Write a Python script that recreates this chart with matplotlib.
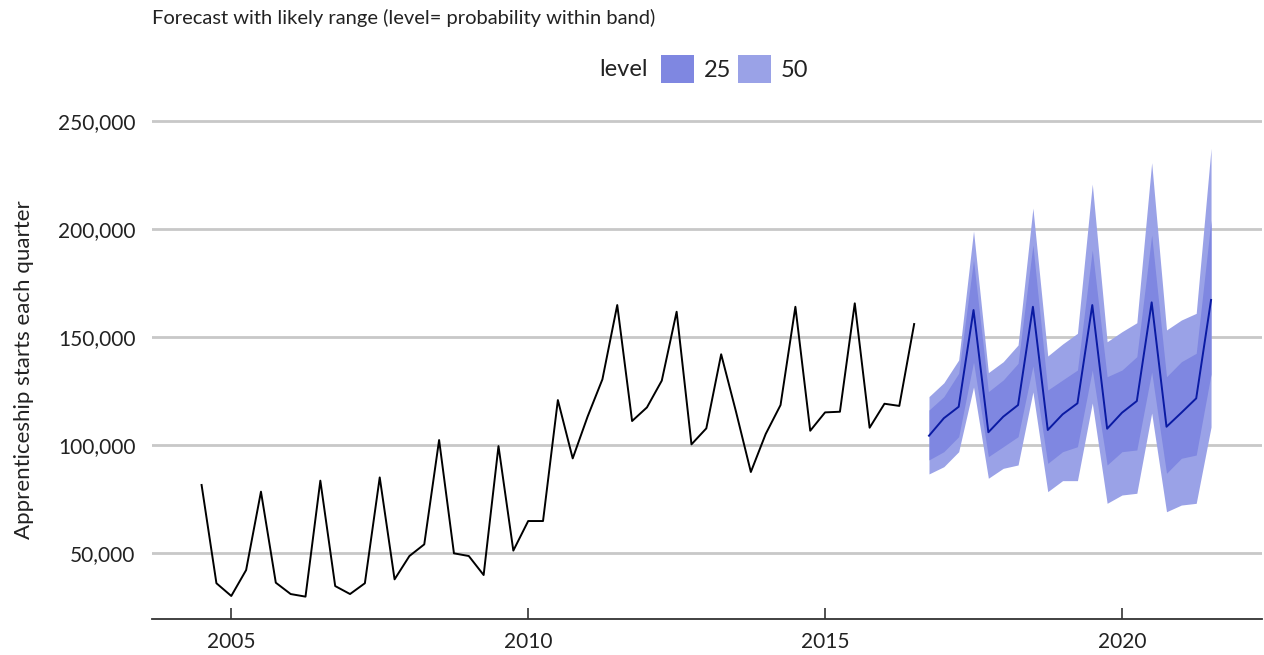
import numpy as np
import matplotlib
matplotlib.use("Agg")
import matplotlib.pyplot as plt
from matplotlib.patches import Patch
from matplotlib.ticker import FuncFormatter

## Data (quarterly)
hist_start = 2004.5
starts = [81500, 36000, 30100, 42100, 78400, 36250, 31000, 29800, 83500, 34700,
          31000, 36000, 85000, 37800, 48600, 54000, 102300, 49850, 48600, 39800,
          99500, 51100, 64800, 64800, 120800, 93800, 113100, 130400, 164800, 111100,
          117400, 129800, 161700, 100300, 107700, 142000, 115400, 87500, 105100, 118500,
          164000, 106600, 115100, 115400, 165600, 108000, 119100, 118100, 156000]

fc_start = 2016.75
fc_mean = [104300, 112400, 117700, 162500, 105900, 113100, 118500, 164000, 106950, 114200,
           119300, 164800, 107550, 114950, 120350, 166050, 108450, 114950, 121600, 167150]
lo25 = [93100, 96900, 103850, 138400, 94600, 99200, 103850, 136600, 91500, 96900,
        99200, 134700, 90750, 96900, 97700, 133800, 86900, 93850, 95350, 132850]
hi25 = [116200, 122400, 133200, 185650, 124700, 130100, 137800, 192600, 125450, 130100,
        134700, 190300, 131600, 134700, 140900, 197200, 131600, 138550, 142450, 204150]
lo50 = [86600, 89950, 96900, 126850, 84600, 89200, 90750, 124550, 78400, 83500,
        83500, 119450, 73000, 76850, 77650, 114800, 69100, 72200, 73000, 108350]
hi50 = [122400, 128800, 139350, 199100, 133500, 138550, 146300, 209700, 141200, 146750,
        151700, 220800, 147800, 152450, 156600, 230700, 153250, 157850, 160950, 237350]

levels = ["25", "50"]
band_colors = {"25": "#7f87e1", "50": "#9aa2e7"}

x_hist = hist_start + 0.25 * np.arange(len(starts))
x_fc = fc_start + 0.25 * np.arange(len(fc_mean))

plt.rcParams['font.family'] = ['Lato', 'DejaVu Sans']

fig = plt.figure(figsize=(12.64, 6.55), dpi=100)
ax = fig.add_axes([152 / 1264, 36 / 655, 1110 / 1264, (619 - 110.2) / 655])

ax.fill_between(x_fc, lo50, hi50, color=band_colors["50"], linewidth=0, zorder=2)
ax.fill_between(x_fc, lo25, hi25, color=band_colors["25"], linewidth=0, zorder=3)
ax.plot(x_fc, fc_mean, color="#0a1aa3", linewidth=1.4, zorder=4)
ax.plot(x_hist, starts, color="black", linewidth=1.4, zorder=4)

ax.set_xlim(2003.665, 2022.358)
ax.set_ylim(19444, 255000)
ax.set_xticks([2005, 2010, 2015, 2020])
ax.set_yticks([50000, 100000, 150000, 200000, 250000])
ax.yaxis.set_major_formatter(FuncFormatter(lambda v, p: f"{int(v):,}"))

ax.grid(axis="y", color="#c8c8c8", linewidth=2.0, zorder=0)
ax.set_axisbelow(True)
for s in ["top", "right", "left"]:
    ax.spines[s].set_visible(False)
ax.spines["bottom"].set_color("#333333")
ax.spines["bottom"].set_linewidth(1.3)

ax.tick_params(axis="y", length=0, pad=12, labelsize=15, labelcolor="#222222")
ax.tick_params(axis="x", direction="in", length=8, width=1.2, color="#333333",
               pad=9, labelsize=15, labelcolor="#222222")

ax.set_ylabel("Apprenticeship starts each quarter", fontsize=16, color="#222222")
ax.yaxis.set_label_coords(-0.106, 0.49)

fig.text(152 / 1264, 1 - 18 / 655, "Forecast with likely range (level= probability within band)",
         fontsize=14.5, color="#222222", ha="left", va="center")

fig.text(648 / 1264, 1 - 69 / 655, "level", fontsize=17, color="#222222", ha="right", va="center")
handles = [Patch(facecolor=band_colors[l], edgecolor="none") for l in levels]
fig.legend(handles, levels, loc="center left", bbox_to_anchor=(661 / 1264, 1 - 69 / 655),
           ncol=2, frameon=False, fontsize=17, borderpad=0, borderaxespad=0,
           handlelength=1.4, handleheight=1.4, handletextpad=0.4, columnspacing=0.3,
           labelcolor="#222222")

fig.savefig("out.png", dpi=100)
